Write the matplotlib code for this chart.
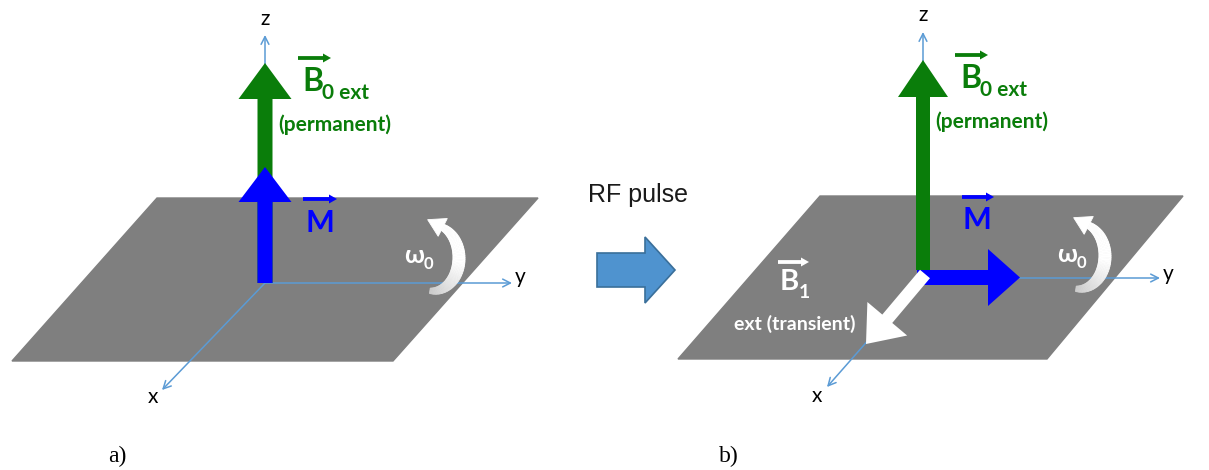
import matplotlib
matplotlib.use('Agg')
import matplotlib.pyplot as plt
import numpy as np
from matplotlib.patches import Polygon

# ---------------- diagram description ----------------
W, H = 1209, 470
PLANE_COLOR = '#7f7f7f'
AXIS_COLOR = '#5b9bd5'
GREEN = '#0a7d0a'
BLUE = '#0000ff'
RF_FILL = '#4f93cf'
RF_EDGE = '#3a6f9a'

# planes (parallelograms): top-left, top-right, bottom-right, bottom-left
plane_a = [(157, 198), (538, 198), (393, 361), (12, 361)]
plane_b = [(820, 196), (1183, 196), (1047, 359), (678, 359)]

# coordinate axes: origin, ends of z, y, x
origin_a = (265, 283)
axes_a = {'z': (265, 35), 'y': (512, 283), 'x': (162, 390)}
axis_label_a = {'z': (265, 19), 'y': (520, 277), 'x': (153, 397)}
origin_b = (923, 278)
axes_b = {'z': (923, 32), 'y': (1160, 278), 'x': (827, 387)}
axis_label_b = {'z': (923, 15), 'y': (1168, 274), 'x': (817, 396)}

panel_labels = ['a)', 'b)']
panel_label_pos = [(117, 456), (729, 456)]

fig = plt.figure(figsize=(12.09, 4.70), dpi=100)
ax = fig.add_axes([0, 0, 1, 1])
ax.set_xlim(0, W)
ax.set_ylim(H, 0)
ax.axis('off')

SANS = ['Lato', 'DejaVu Sans']


def block_arrow(p0, p1, sw, hw, hl, color, z, ec=None, lw=0):
    p0 = np.array(p0, float)
    p1 = np.array(p1, float)
    d = p1 - p0
    L = np.hypot(*d)
    d = d / L
    n = np.array([-d[1], d[0]])
    base = p1 - d * hl
    pts = [p0 + n * sw / 2, base + n * sw / 2, base + n * hw / 2, p1,
           base - n * hw / 2, base - n * sw / 2, p0 - n * sw / 2]
    ax.add_patch(Polygon(pts, closed=True, facecolor=color,
                         edgecolor=ec if ec else color, lw=lw, zorder=z))


def axis_arrow(p0, p1):
    ax.annotate('', xy=p1, xytext=p0,
                arrowprops=dict(arrowstyle='->,head_length=0.55,head_width=0.28',
                                color=AXIS_COLOR, lw=1.1, shrinkA=0, shrinkB=0),
                zorder=2)


def vec_over(x0, x1, y, color):
    block_arrow((x0, y), (x1, y), 3.8, 9, 8, color, 6)


def rot_arrow(cx, cy):
    rx, ry = 26, 33
    t = np.radians(np.linspace(-97, 68, 60))
    s = np.linspace(0, 1, 60)
    w = 4 + 9 * np.sin(np.linspace(0.15, np.pi * 0.85, 60)) - 1.5 * s
    xs = cx + rx * np.cos(t)
    ys = cy - ry * np.sin(t)
    nx = np.cos(t) / rx
    ny = -np.sin(t) / ry
    nn = np.hypot(nx, ny)
    nx, ny = nx / nn, ny / nn
    for i in range(len(t) - 1):
        frac = np.clip((np.degrees(t[i]) + 97) / 90, 0, 1)
        g = 0.80 + 0.20 * frac
        col = (g, g, g)
        pts = [(xs[i] + nx[i] * w[i] / 2, ys[i] + ny[i] * w[i] / 2),
               (xs[i + 1] + nx[i + 1] * w[i + 1] / 2, ys[i + 1] + ny[i + 1] * w[i + 1] / 2),
               (xs[i + 1] - nx[i + 1] * w[i + 1] / 2, ys[i + 1] - ny[i + 1] * w[i + 1] / 2),
               (xs[i] - nx[i] * w[i] / 2, ys[i] - ny[i] * w[i] / 2)]
        ax.add_patch(Polygon(pts, closed=True, facecolor=col, edgecolor=col,
                             lw=0.6, zorder=4))
    te = t[-1]
    tx, ty = -rx * np.sin(te), -ry * np.cos(te)
    tn = np.hypot(tx, ty)
    tx, ty = tx / tn, ty / tn
    bx, by = xs[-1], ys[-1]
    hl, hw = 17, 20
    tip = (bx + tx * hl, by + ty * hl)
    n2 = (-ty, tx)
    pts = [(bx + n2[0] * hw / 2, by + n2[1] * hw / 2), tip,
           (bx - n2[0] * hw / 2, by - n2[1] * hw / 2)]
    ax.add_patch(Polygon(pts, closed=True, facecolor='white', edgecolor='white',
                         lw=0.6, zorder=4))


# ---------------- planes ----------------
for pl in (plane_a, plane_b):
    ax.add_patch(Polygon(pl, closed=True, facecolor=PLANE_COLOR,
                         edgecolor=PLANE_COLOR, zorder=1))

# ---------------- axes ----------------
for org, axs, labs in ((origin_a, axes_a, axis_label_a), (origin_b, axes_b, axis_label_b)):
    for k in ('z', 'y', 'x'):
        axis_arrow(org, axs[k])
        ax.text(*labs[k], k, family=SANS, fontsize=15, color='black',
                ha='center', va='center', zorder=6)

# ---------------- panel a vectors ----------------
block_arrow((265, 283), (265, 63), 15, 53, 36, GREEN, 3)
block_arrow((265, 283), (265, 167), 15, 53, 35, BLUE, 3.5)

# ---------------- panel b vectors ----------------
block_arrow((923, 270), (923, 60), 14, 50, 37, GREEN, 3)
block_arrow((917, 277.5), (1020, 277.5), 15, 57, 32, BLUE, 3.5)
block_arrow((925, 274), (866, 344), 13, 52, 33, 'white', 3.6)

# rotation arrows
rot_arrow(433, 258)
rot_arrow(1079, 256)

# ---------------- texts ----------------
def b0_label(xB, yb, xa0, xa1, ya, xp, yp):
    vec_over(xa0, xa1, ya, GREEN)
    ax.text(xB, yb, 'B', family=SANS, fontsize=23, fontweight='bold',
            color=GREEN, ha='left', va='baseline', zorder=6)
    ax.text(xB + 20, yb + 8, '0 ext', family=SANS, fontsize=15, fontweight='bold',
            color=GREEN, ha='left', va='baseline', zorder=6)
    ax.text(xp, yp, '(permanent)', family=SANS, fontsize=15, fontweight='bold',
            color=GREEN, ha='center', va='center', zorder=6)


b0_label(302, 91, 298, 331, 58, 335, 125)
b0_label(960, 88, 955, 988, 55, 992, 122)

# M labels
for (xm, ym, xa0, xa1, ya) in ((320, 232, 303, 337, 199), (977, 229, 962, 994, 197)):
    vec_over(xa0, xa1, ya, BLUE)
    ax.text(xm, ym, 'M', family=SANS, fontsize=22, fontweight='bold', color=BLUE,
            ha='center', va='baseline', zorder=6)

# omega labels
for (xw, yw) in ((404, 263), (1057, 262)):
    ax.text(xw, yw, 'ω', family=SANS, fontsize=18, fontweight='bold', color='white',
            ha='left', va='baseline', zorder=6)
    ax.text(xw + 20, yw + 6, '0', family=SANS, fontsize=12, fontweight='bold',
            color='white', ha='left', va='baseline', zorder=6)

# B1 label
vec_over(778, 809, 262, 'white')
ax.text(780, 290, 'B', family=SANS, fontsize=21, fontweight='bold', color='white',
        ha='left', va='baseline', zorder=6)
ax.text(799, 298, '1', family=SANS, fontsize=14, fontweight='bold', color='white',
        ha='left', va='baseline', zorder=6)
ax.text(795, 324, 'ext (transient)', family=SANS, fontsize=14, fontweight='bold',
        color='white', ha='center', va='center', zorder=6)

# RF pulse
ax.text(638, 195, 'RF pulse', family=['Liberation Sans', 'DejaVu Sans'], fontsize=18,
        color='#1a1a1a', ha='center', va='center')
block_arrow((597, 270), (675, 270), 34, 66, 30, RF_FILL, 3, ec=RF_EDGE, lw=1.2)

# panel labels
for lab, (xl, yl) in zip(panel_labels, panel_label_pos):
    ax.text(xl, yl, lab, family=['Liberation Serif', 'DejaVu Serif'], fontsize=17,
            color='black', ha='center', va='center')

fig.savefig('out.png', dpi=100)
